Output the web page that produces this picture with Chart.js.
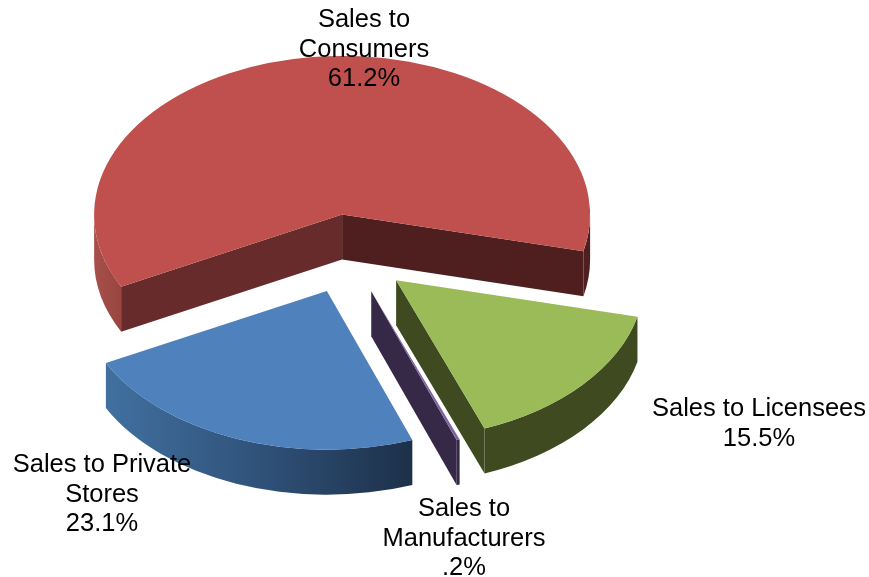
<!DOCTYPE html>
<html>
<head>
<meta charset="utf-8">
<title>Sales by channel</title>
<script src="https://cdn.jsdelivr.net/npm/chart.js@4/dist/chart.umd.min.js"></script>
<style>
    html, body { margin: 0; padding: 0; background: #fff; }
    canvas { display: block; }
</style>
</head>
<body>
<canvas id="salesPie" width="869" height="577"></canvas>
<script>
const categories = ['Sales to Consumers', 'Sales to Licensees', 'Sales to Manufacturers', 'Sales to Private Stores'];
const shares = [61.2, 15.5, 0.2, 23.1];
const labelLines = [['Sales to', 'Consumers'], ['Sales to Licensees'], ['Sales to', 'Manufacturers'], ['Sales to Private', 'Stores']];
const topColors = ['#c0504e', '#9bbb59', '#8064a2', '#4f81bd'];
const endFaceColors = ['#4e1f1e', '#3f4a21', '#352947', '#1d3049'];

const squash = 0.64;    // vertical tilt of the pie
const depth = 45;       // thickness of the slices in px
const explode = 62;     // every slice is pulled out of the centre by this much
const lineHeight = 29.5;

// middle of the first line of each label
const labelAnchors = [
    { x: 364, y: 20 },
    { x: 759, y: 409 },
    { x: 464, y: 509 },
    { x: 102, y: 465 }
];

function shareText(v) {
    return String(v).replace(/^0\./, '.') + '%';
}

function tilt(ctx, cy) {
    ctx.translate(0, cy);
    ctx.scale(1, squash);
    ctx.translate(0, -cy);
}

// Outer wall colour runs left to right over the width of the pie
function wallFill(ctx, index, arc) {
    const r = arc.outerRadius;
    if (index === 0) {
        const g = ctx.createLinearGradient(arc.x - r, 0, arc.x + r, 0);
        g.addColorStop(0, '#a84f4b');
        g.addColorStop(0.06, '#96443f');
        g.addColorStop(0.9, '#4e1f1e');
        g.addColorStop(1, '#4e1f1e');
        return g;
    }
    if (index === 3) {
        const g = ctx.createLinearGradient(arc.x + r * Math.cos(arc.endAngle), 0, arc.x + r * Math.cos(arc.startAngle), 0);
        g.addColorStop(0, '#41709f');
        g.addColorStop(0.5, '#30527a');
        g.addColorStop(1, '#1d3049');
        return g;
    }
    return endFaceColors[index];
}

function drawWalls(ctx, chart, arc, index) {
    const cy = (chart.chartArea.top + chart.chartArea.bottom) / 2;
    const r = arc.outerRadius;
    const sy = cy + (arc.y - cy) * squash;
    const s = arc.startAngle, e = arc.endAngle;

    // curved wall, only the part that faces the viewer
    ctx.fillStyle = wallFill(ctx, index, arc);
    for (let n = -1; n <= 2; n++) {
        const lo = Math.max(s, n * 2 * Math.PI);
        const hi = Math.min(e, n * 2 * Math.PI + Math.PI);
        if (hi <= lo) continue;
        ctx.beginPath();
        ctx.ellipse(arc.x, sy, r, r * squash, 0, lo, hi);
        ctx.ellipse(arc.x, sy + depth, r, r * squash, 0, hi, lo, true);
        ctx.closePath();
        ctx.fill();
    }

    // flat cut faces
    const face = (angle, color) => {
        const ox = arc.x + r * Math.cos(angle);
        const oy = sy + r * squash * Math.sin(angle);
        ctx.fillStyle = color;
        ctx.beginPath();
        ctx.moveTo(arc.x, sy);
        ctx.lineTo(ox, oy);
        ctx.lineTo(ox, oy + depth);
        ctx.lineTo(arc.x, sy + depth);
        ctx.closePath();
        ctx.fill();
    };
    if (Math.cos(s) < 0) face(s, '#662b2a');
    if (Math.cos(e) > 0) face(e, endFaceColors[index]);
}

const pie3d = {
    id: 'pie3d',
    afterDatasetsUpdate(chart) {
        // pull the slices apart; the arc's own offset option also grows the radius
        chart.getDatasetMeta(0).data.forEach(arc => {
            const mid = (arc.startAngle + arc.endAngle) / 2;
            arc.x += Math.cos(mid) * explode;
            arc.y += Math.sin(mid) * explode;
        });
    },
    beforeDatasetsDraw(chart) {
        const ctx = chart.ctx;
        chart.getDatasetMeta(0).data.forEach((arc, i) => drawWalls(ctx, chart, arc, i));
        ctx.save();
        tilt(ctx, (chart.chartArea.top + chart.chartArea.bottom) / 2);
    },
    afterDatasetsDraw(chart) {
        const ctx = chart.ctx;
        ctx.restore();

        ctx.save();
        ctx.font = '25.5px "Liberation Sans", Arial, sans-serif';
        ctx.fillStyle = '#000';
        ctx.textAlign = 'center';
        ctx.textBaseline = 'middle';
        categories.forEach((name, i) => {
            const lines = labelLines[i].concat(shareText(shares[i]));
            lines.forEach((line, j) => {
                ctx.fillText(line, labelAnchors[i].x, labelAnchors[i].y + j * lineHeight);
            });
        });
        ctx.restore();
    }
};

new Chart(document.getElementById('salesPie'), {
    type: 'pie',
    data: {
        labels: categories,
        datasets: [{
            data: shares,
            backgroundColor: topColors,
            borderWidth: 0,
            clip: false
        }]
    },
    options: {
        responsive: false,
        animation: false,
        rotation: 243,
        radius: 248,
        layout: { padding: { right: 170, bottom: 69 } },
        plugins: {
            legend: { display: false },
            tooltip: { enabled: false }
        }
    },
    plugins: [pie3d]
});
</script>
</body>
</html>
